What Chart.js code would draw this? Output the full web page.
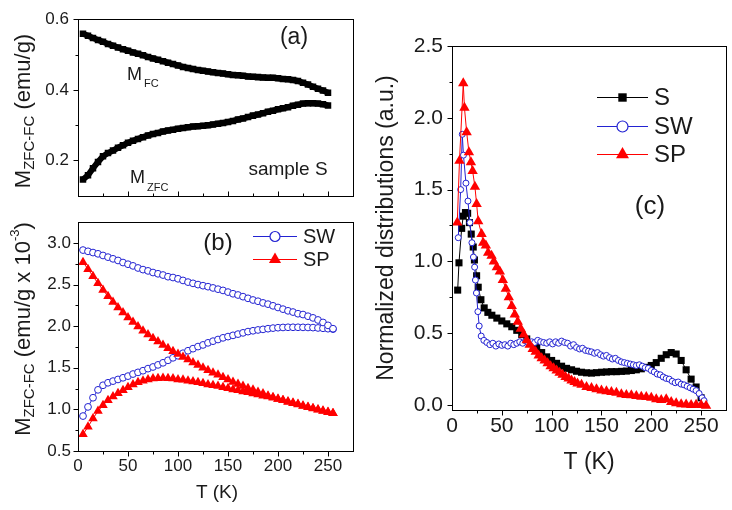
<!DOCTYPE html>
<html>
<head>
<meta charset="utf-8">
<script src="https://cdn.jsdelivr.net/npm/chart.js@4.4.0/dist/chart.umd.min.js"></script>
<style>
  html, body { margin: 0; padding: 0; background: #fff; }
  #wrap { position: relative; width: 732px; height: 510px; overflow: hidden; background: #fff; }
  canvas { position: absolute; }
</style>
</head>
<body>
<div id="wrap">
  <canvas id="chartA" width="370" height="215" style="left:0px;top:0px"></canvas>
  <canvas id="chartB" width="370" height="305" style="left:0px;top:205px"></canvas>
  <canvas id="chartC" width="362" height="510" style="left:370px;top:0px"></canvas>
</div>
<script>
const FONT = '"Liberation Sans", Arial, Helvetica, sans-serif';
const BLUE = '#2323d2';
const RED = '#ff0000';

// ---- panel (a): sample S, M in emu/g ----
const tempA = [5, 10, 15, 20, 25, 30, 35, 40, 45, 50, 55, 60, 65, 70, 75, 80, 85, 90, 95, 100,
  105, 110, 115, 120, 125, 130, 135, 140, 145, 150, 155, 160, 165, 170, 175, 180, 185, 190, 195, 200,
  205, 210, 215, 220, 225, 230, 235, 240, 245, 250];
const mFcS = [0.559, 0.553, 0.547, 0.541, 0.536, 0.530, 0.525, 0.520, 0.515, 0.511,
  0.506, 0.502, 0.498, 0.493, 0.489, 0.485, 0.481, 0.477, 0.473, 0.469,
  0.465, 0.462, 0.459, 0.456, 0.454, 0.452, 0.450, 0.448, 0.446, 0.444,
  0.442, 0.441, 0.440, 0.438, 0.437, 0.436, 0.435, 0.434, 0.434, 0.433,
  0.431, 0.430, 0.428, 0.425, 0.420, 0.415, 0.409, 0.403, 0.398, 0.392];
const mZfcS = [0.146, 0.158, 0.178, 0.196, 0.212, 0.221, 0.228, 0.236, 0.243, 0.250,
  0.256, 0.261, 0.266, 0.271, 0.275, 0.278, 0.282, 0.285, 0.287, 0.290,
  0.292, 0.294, 0.296, 0.297, 0.298, 0.300, 0.302, 0.304, 0.306, 0.309,
  0.312, 0.316, 0.319, 0.323, 0.327, 0.330, 0.334, 0.338, 0.341, 0.345,
  0.348, 0.351, 0.355, 0.358, 0.361, 0.362, 0.362, 0.361, 0.359, 0.356];

// ---- panel (b): samples SW and SP, M in emu/g x 10^-3 ----
const tempB = [5, 10, 15, 20, 25, 30, 35, 40, 45, 50, 55, 60, 65, 70, 75, 80, 85, 90, 95, 100,
  105, 110, 115, 120, 125, 130, 135, 140, 145, 150, 155, 160, 165, 170, 175, 180, 185, 190, 195, 200,
  205, 210, 215, 220, 225, 230, 235, 240, 245, 250, 255];
const mFcSW = [2.915, 2.900, 2.885, 2.870, 2.850, 2.830, 2.810, 2.790, 2.765, 2.745,
  2.725, 2.700, 2.680, 2.665, 2.645, 2.630, 2.615, 2.595, 2.585, 2.570,
  2.550, 2.530, 2.515, 2.500, 2.487, 2.475, 2.460, 2.445, 2.430, 2.410,
  2.390, 2.375, 2.355, 2.335, 2.315, 2.300, 2.280, 2.265, 2.245, 2.225,
  2.205, 2.185, 2.170, 2.150, 2.140, 2.120, 2.100, 2.075, 2.045, 2.010, 1.970];
const mZfcSW = [0.920, 1.030, 1.140, 1.235, 1.290, 1.320, 1.340, 1.360, 1.380, 1.400,
  1.425, 1.445, 1.465, 1.490, 1.510, 1.535, 1.560, 1.590, 1.620, 1.645,
  1.675, 1.705, 1.730, 1.755, 1.775, 1.800, 1.820, 1.840, 1.860, 1.875,
  1.890, 1.905, 1.920, 1.935, 1.945, 1.955, 1.962, 1.970, 1.977, 1.982,
  1.985, 1.987, 1.987, 1.987, 1.986, 1.985, 1.983, 1.979, 1.975, 1.970, 1.965];
const mFcSP = [2.770, 2.685, 2.600, 2.515, 2.435, 2.360, 2.290, 2.225, 2.165, 2.105,
  2.050, 1.995, 1.945, 1.900, 1.855, 1.815, 1.775, 1.735, 1.700, 1.665,
  1.630, 1.600, 1.565, 1.535, 1.500, 1.470, 1.440, 1.415, 1.385, 1.360,
  1.330, 1.305, 1.280, 1.255, 1.235, 1.210, 1.190, 1.165, 1.145, 1.125,
  1.110, 1.090, 1.075, 1.060, 1.040, 1.025, 1.010, 0.995, 0.980, 0.965, 0.955];
const mZfcSP = [0.700, 0.790, 0.890, 0.980, 1.050, 1.110, 1.155, 1.195, 1.230, 1.265,
  1.300, 1.325, 1.345, 1.360, 1.370, 1.375, 1.378, 1.375, 1.370, 1.360,
  1.355, 1.345, 1.335, 1.325, 1.315, 1.300, 1.290, 1.280, 1.265, 1.255,
  1.240, 1.230, 1.215, 1.205, 1.190, 1.180, 1.165, 1.155, 1.140, 1.125,
  1.110, 1.095, 1.080, 1.065, 1.045, 1.030, 1.015, 1.000, 0.985, 0.970, 0.955];

// ---- panel (c): normalized distributions ----
const tempS = [5.7, 7, 9.7, 11.3, 13.5, 15.7, 17.5, 19.3, 21.3, 22.5, 24.7, 26.3, 29, 32.3, 36, 40,
  45, 50, 55, 60, 65, 70, 75, 80, 85, 90, 95, 100, 105, 110, 115, 120, 125, 130, 135, 140, 145, 150,
  155, 160, 165, 170, 175, 180, 185, 190, 195, 200, 205, 210, 215, 220, 225, 230, 235, 240, 245, 250];
const distS = [0.80, 0.99, 1.23, 1.315, 1.34, 1.335, 1.27, 1.19, 1.10, 1.01, 0.90, 0.82, 0.733, 0.676, 0.645, 0.625,
  0.605, 0.585, 0.565, 0.545, 0.52, 0.49, 0.46, 0.43, 0.40, 0.365, 0.335, 0.31, 0.29, 0.27, 0.255, 0.245, 0.235, 0.228, 0.224, 0.222, 0.225, 0.228,
  0.23, 0.232, 0.232, 0.234, 0.236, 0.24, 0.245, 0.252, 0.262, 0.275, 0.295, 0.325, 0.35, 0.365, 0.355, 0.31, 0.245, 0.18, 0.125, 0.05];
const tempSW = [6.3, 8.7, 10.3, 11.5, 14, 16, 18, 20, 21.5, 22.7, 23.5, 24.5, 26, 27.3, 29.3, 32, 35, 38, 41, 44,
  47, 50, 53, 56, 59, 62, 65, 68, 71, 74, 77, 80, 83, 86, 89, 92, 95, 98, 101, 104,
  107, 110, 113, 116, 119, 122, 125, 128, 131, 134, 137, 140, 143, 146, 149, 152, 155, 158, 161, 164,
  167, 170, 173, 176, 179, 182, 185, 188, 191, 194, 197, 200, 203, 206, 209, 212, 215, 218, 221, 224,
  227, 230, 233, 236, 239, 242, 245, 248, 251, 253];
const distSW = [1.165, 1.50, 1.885, 1.74, 1.545, 1.42, 1.27, 1.13, 1.03, 0.96, 0.87, 0.78, 0.65, 0.55, 0.48, 0.45, 0.435, 0.42, 0.43, 0.41,
  0.425, 0.415, 0.42, 0.41, 0.43, 0.42, 0.43, 0.44, 0.43, 0.445, 0.43, 0.44, 0.435, 0.45, 0.44, 0.435, 0.43, 0.44, 0.425, 0.44,
  0.43, 0.445, 0.435, 0.43, 0.41, 0.42, 0.40, 0.39, 0.395, 0.38, 0.375, 0.37, 0.36, 0.365, 0.35, 0.34, 0.345, 0.33, 0.32, 0.325,
  0.31, 0.30, 0.295, 0.29, 0.285, 0.28, 0.275, 0.28, 0.27, 0.26, 0.255, 0.24, 0.23, 0.215, 0.21, 0.195, 0.185, 0.18, 0.165, 0.155,
  0.16, 0.145, 0.14, 0.13, 0.12, 0.11, 0.10, 0.08, 0.05, 0.03];
const tempSP = [5.3, 7.5, 11.3, 12.5, 14.7, 17, 19, 20.7, 23, 24.7, 26.3, 29.7, 31.3, 34, 36.3, 39.7, 42, 45, 48, 51,
  54, 57, 60, 63, 66, 69, 72, 75, 78, 81, 84, 87, 90, 93, 96, 99, 102, 105, 108, 111,
  114, 117, 120, 123, 126, 130, 135, 140, 145, 150, 155, 160, 165, 170, 175, 180, 185, 190, 195, 200,
  205, 210, 215, 220, 225, 230, 235, 240, 245, 250, 255];
const distSP = [1.27, 1.70, 2.24, 2.07, 1.90, 1.76, 1.69, 1.63, 1.52, 1.40, 1.28, 1.19, 1.13, 1.11, 1.06, 1.04, 1.00, 0.96, 0.93, 0.87,
  0.81, 0.75, 0.69, 0.63, 0.58, 0.53, 0.49, 0.45, 0.42, 0.39, 0.37, 0.345, 0.325, 0.31, 0.29, 0.27, 0.255, 0.24, 0.225, 0.21,
  0.195, 0.185, 0.17, 0.16, 0.15, 0.14, 0.125, 0.118, 0.11, 0.10, 0.095, 0.09, 0.085, 0.075, 0.07, 0.068, 0.062, 0.058, 0.055, 0.05,
  0.04, 0.035, 0.04, 0.02, 0.012, 0.005, 0.003, 0.0, 0.002, 0.0, -0.005];

// axis ticks
const xTicks = [0, 50, 100, 150, 200, 250];
const xMinor = [25, 75, 125, 175, 225];
const yTicksA = [0.2, 0.4, 0.6];
const yMinorA = [0.3, 0.5];
const yTicksB = [0.5, 1.0, 1.5, 2.0, 2.5, 3.0];
const yMinorB = [0.75, 1.25, 1.75, 2.25, 2.75];
const yTicksC = [0.0, 0.5, 1.0, 1.5, 2.0, 2.5];
const yMinorC = [0.25, 0.75, 1.25, 1.75, 2.25];

function pts(xs, ys) {
  return xs.map((x, i) => ({ x: x, y: ys[i] }));
}

function xScale(show, size, pad) {
  const s = {
    type: 'linear', min: 0, max: 275, display: show,
    afterBuildTicks: sc => { sc.ticks = xTicks.map(v => ({ value: v })); },
    grid: { display: false, drawTicks: false },
    border: { display: false },
    ticks: { font: { family: FONT, size: size }, color: '#1a1a1a', padding: pad,
      maxRotation: 0, autoSkip: false, callback: v => String(v) }
  };
  if (show) s.afterFit = sc => { sc.height = 40; };
  return s;
}

function yScale(min, max, list, width, size, pad) {
  return {
    type: 'linear', min: min, max: max,
    afterBuildTicks: s => { s.ticks = list.map(v => ({ value: v })); },
    afterFit: s => { s.width = width; },
    grid: { display: false, drawTicks: false },
    border: { display: false },
    ticks: { font: { family: FONT, size: size }, color: '#1a1a1a', padding: pad,
      autoSkip: false, callback: v => v.toFixed(1) }
  };
}

// text made of runs: [text, size, dy]
function rich(ctx, x, y, parts, rot) {
  ctx.save();
  ctx.translate(x, y);
  if (rot) ctx.rotate(rot);
  let w = 0;
  parts.forEach(p => { ctx.font = p[1] + 'px ' + FONT; w += ctx.measureText(p[0]).width; });
  let cx = -w / 2;
  ctx.fillStyle = '#1a1a1a';
  ctx.textBaseline = 'middle';
  ctx.textAlign = 'left';
  parts.forEach(p => {
    ctx.font = p[1] + 'px ' + FONT;
    ctx.fillText(p[0], cx, p[2] || 0);
    cx += ctx.measureText(p[0]).width;
  });
  ctx.restore();
}

function marker(ctx, kind, x, y, r, color) {
  ctx.save();
  ctx.beginPath();
  if (kind === 'rect') {
    ctx.rect(x - r, y - r, 2 * r, 2 * r);
    ctx.fillStyle = color; ctx.fill();
  } else if (kind === 'circle') {
    ctx.arc(x, y, r, 0, Math.PI * 2);
    ctx.fillStyle = '#fff'; ctx.fill();
    ctx.strokeStyle = color; ctx.lineWidth = 1.2; ctx.stroke();
  } else {
    ctx.moveTo(x, y - r);
    ctx.lineTo(x + r * 0.866, y + r * 0.5);
    ctx.lineTo(x - r * 0.866, y + r * 0.5);
    ctx.closePath();
    ctx.fillStyle = color; ctx.fill();
  }
  ctx.restore();
}

function legendRow(ctx, x0, x1, y, kind, r, color, label, size) {
  ctx.save();
  ctx.strokeStyle = color; ctx.lineWidth = 1;
  ctx.beginPath(); ctx.moveTo(x0, y + 0.5); ctx.lineTo(x1, y + 0.5); ctx.stroke();
  ctx.restore();
  marker(ctx, kind, (x0 + x1) / 2, y + 0.5, r, color);
  ctx.save();
  ctx.font = size + 'px ' + FONT;
  ctx.fillStyle = '#1a1a1a';
  ctx.textBaseline = 'middle';
  ctx.fillText(label, x1 + 6, y + 1);
  ctx.restore();
}

// frame, tick marks and free text
function decor(cfg) {
  return {
    id: 'decor',
    afterDraw(chart) {
      const ctx = chart.ctx, a = chart.chartArea;
      const sx = chart.scales.x, sy = chart.scales.y;
      const L = Math.round(a.left) + 0.5, T = Math.round(a.top) + 0.5;
      const R = Math.round(a.right) + 0.5, B = Math.round(a.bottom) + 0.5;
      ctx.save();
      ctx.strokeStyle = '#000';
      ctx.lineWidth = 1;
      ctx.strokeRect(L, T, R - L, B - T);
      ctx.beginPath();
      const xt = (v, len) => {
        const p = Math.round(sx.getPixelForValue(v)) + 0.5;
        ctx.moveTo(p, B); ctx.lineTo(p, B + cfg.xDir * len);
      };
      const yt = (v, len) => {
        const p = Math.round(sy.getPixelForValue(v)) + 0.5;
        ctx.moveTo(L, p); ctx.lineTo(L - len, p);
      };
      xTicks.forEach(v => { if (v > 0) xt(v, 5); });
      xMinor.forEach(v => xt(v, 3));
      cfg.yMajor.forEach(v => yt(v, 5));
      cfg.yMinor.forEach(v => yt(v, 3));
      ctx.stroke();
      ctx.restore();
      cfg.text(ctx);
    }
  };
}

function common(padding) {
  return {
    responsive: false,
    animation: false,
    events: [],
    layout: { padding: padding },
    plugins: { legend: { display: false }, tooltip: { enabled: false } }
  };
}

// ---------- panel (a) ----------
new Chart(document.getElementById('chartA'), {
  type: 'scatter',
  data: {
    datasets: [
      { data: pts(tempA, mFcS), showLine: true, borderColor: '#000', borderWidth: 6,
        pointStyle: 'rect', pointRadius: 4.6, backgroundColor: '#000', pointBorderWidth: 0 },
      { data: pts(tempA, mZfcS), showLine: true, borderColor: '#000', borderWidth: 6,
        pointStyle: 'rect', pointRadius: 4.6, backgroundColor: '#000', pointBorderWidth: 0 }
    ]
  },
  options: Object.assign(common({ left: 0, top: 15, right: 17, bottom: 6 }), {
    scales: {
      x: xScale(false, 17, 4),
      y: yScale(0.1, 0.6, yTicksA, 78, 17, 9)
    }
  }),
  plugins: [decor({
    xDir: -1, yMajor: yTicksA, yMinor: yMinorA,
    text: ctx => {
      rich(ctx, 24, 111, [['M', 22, 0], ['ZFC-FC', 15, 6], [' (emu/g)', 22, 0]], -Math.PI / 2);
      rich(ctx, 294, 38, [['(a)', 23, 0]]);
      rich(ctx, 288, 170, [['sample S', 19, 0]]);
      ctx.save();
      ctx.fillStyle = '#1a1a1a';
      ctx.textBaseline = 'alphabetic';
      ctx.font = '18px ' + FONT; ctx.fillText('M', 127, 80);
      ctx.font = '11px ' + FONT; ctx.fillText('FC', 144, 87);
      ctx.font = '18px ' + FONT; ctx.fillText('M', 130, 183);
      ctx.font = '11px ' + FONT; ctx.fillText('ZFC', 147, 191);
      ctx.restore();
    }
  })]
});

// ---------- panel (b) ----------
new Chart(document.getElementById('chartB'), {
  type: 'scatter',
  data: {
    datasets: [
      { data: pts(tempB, mFcSP), showLine: true, borderColor: RED, borderWidth: 1, order: 0,
        pointStyle: 'triangle', pointRadius: 5.5, backgroundColor: RED, pointBorderColor: RED, pointBorderWidth: 0 },
      { data: pts(tempB, mZfcSP), showLine: true, borderColor: RED, borderWidth: 1, order: 0,
        pointStyle: 'triangle', pointRadius: 5.5, backgroundColor: RED, pointBorderColor: RED, pointBorderWidth: 0 },
      { data: pts(tempB, mFcSW), showLine: true, borderColor: BLUE, borderWidth: 1, order: 1,
        pointStyle: 'circle', pointRadius: 3.4, backgroundColor: '#fff', pointBorderColor: BLUE, pointBorderWidth: 1 },
      { data: pts(tempB, mZfcSW), showLine: true, borderColor: BLUE, borderWidth: 1, order: 1,
        pointStyle: 'circle', pointRadius: 3.4, backgroundColor: '#fff', pointBorderColor: BLUE, pointBorderWidth: 1 }
    ]
  },
  options: Object.assign(common({ left: 0, top: 4, right: 17, bottom: 19 }), {
    scales: {
      x: xScale(true, 17, 5),
      y: yScale(0.5, 3.25, yTicksB, 78, 17, 7)
    }
  }),
  plugins: [decor({
    xDir: 1, yMajor: yTicksB, yMinor: yMinorB,
    text: ctx => {
      rich(ctx, 24, 124, [['M', 22, 0], ['ZFC-FC', 15, 6], [' (emu/g x 10', 22, 0], ['-3', 13, -9], [')', 22, 0]], -Math.PI / 2);
      rich(ctx, 217, 288, [['T (K)', 19, 0]]);
      rich(ctx, 218, 38, [['(b)', 24, 0]]);
      legendRow(ctx, 253, 297, 31, 'circle', 5, BLUE, 'SW', 20);
      legendRow(ctx, 253, 297, 54, 'tri', 7, RED, 'SP', 20);
    }
  })]
});

// ---------- panel (c) ----------
new Chart(document.getElementById('chartC'), {
  type: 'scatter',
  data: {
    datasets: [
      { data: pts(tempSP, distSP), showLine: true, borderColor: RED, borderWidth: 1, order: 0,
        pointStyle: 'triangle', pointRadius: 6, backgroundColor: RED, pointBorderColor: RED, pointBorderWidth: 0 },
      { data: pts(tempSW, distSW), showLine: true, borderColor: BLUE, borderWidth: 1, order: 1,
        pointStyle: 'circle', pointRadius: 3, backgroundColor: '#fff', pointBorderColor: BLUE, pointBorderWidth: 1 },
      { data: pts(tempS, distS), showLine: true, borderColor: '#000', borderWidth: 1, order: 2,
        pointStyle: 'rect', pointRadius: 5, backgroundColor: '#000', pointBorderWidth: 0 }
    ]
  },
  options: Object.assign(common({ left: 0, top: 46, right: 5, bottom: 60 }), {
    scales: {
      x: xScale(true, 21, 4),
      y: yScale(-0.035, 2.5, yTicksC, 82, 21, 9)
    }
  }),
  plugins: [decor({
    xDir: 1, yMajor: yTicksC, yMinor: yMinorC,
    text: ctx => {
      rich(ctx, 17, 228, [['Normalized distributions (a.u.)', 23, 0]], -Math.PI / 2);
      rich(ctx, 219, 463, [['T (K)', 23, 0]]);
      rich(ctx, 280, 207, [['(c)', 26, 0]]);
      legendRow(ctx, 227, 278, 97, 'rect', 4.2, '#000', 'S', 24);
      legendRow(ctx, 227, 278, 126, 'circle', 5.5, BLUE, 'SW', 24);
      legendRow(ctx, 227, 278, 154, 'tri', 7.5, RED, 'SP', 24);
    }
  })]
});
</script>
</body>
</html>
